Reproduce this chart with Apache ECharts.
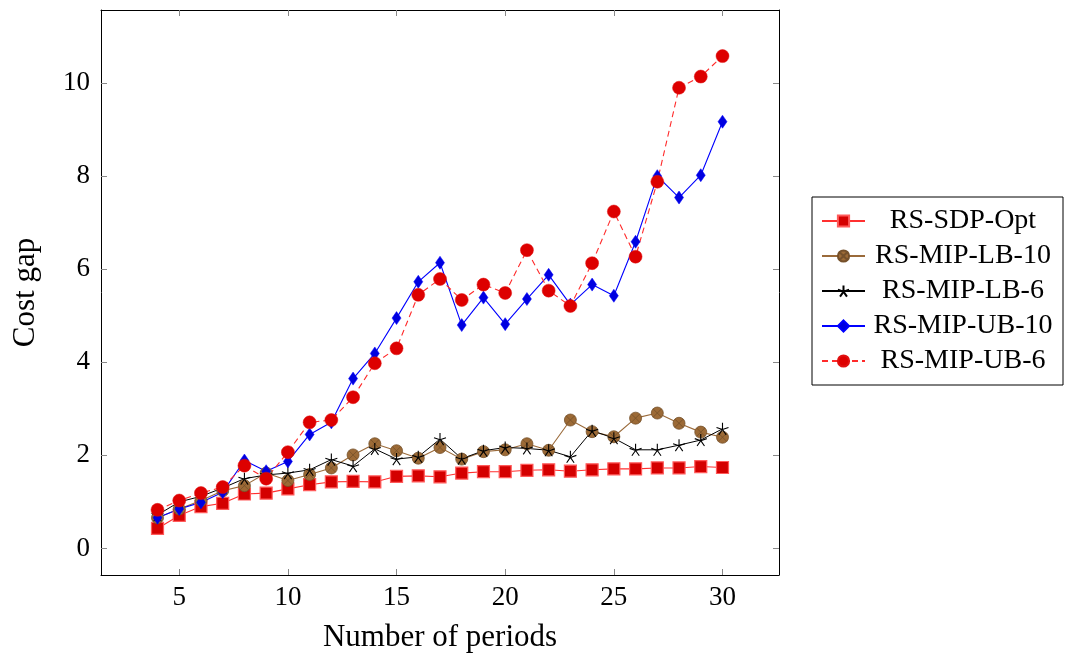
<!DOCTYPE html>
<html>
<head>
<meta charset="utf-8">
<script src="https://cdn.jsdelivr.net/npm/echarts@6/dist/echarts.min.js"></script>
<style>html,body{margin:0;padding:0;background:#fff}#c{width:1065px;height:659px}</style>
</head>
<body>
<div id="c"></div>
<script>
const periods = [4,5,6,7,8,9,10,11,12,13,14,15,16,17,18,19,20,21,22,23,24,25,26,27,28,29,30];
const sdpOpt = [0.43,0.71,0.90,0.97,1.17,1.19,1.28,1.37,1.43,1.44,1.43,1.55,1.56,1.54,1.62,1.65,1.65,1.68,1.69,1.66,1.69,1.71,1.71,1.73,1.73,1.76,1.74];
const mipLB10 = [0.66,0.85,1.03,1.24,1.35,1.62,1.46,1.59,1.73,2.01,2.25,2.10,1.94,2.17,1.92,2.08,2.12,2.25,2.11,2.76,2.51,2.40,2.80,2.91,2.69,2.50,2.39];
const mipLB6 = [0.72,1.00,1.12,1.30,1.50,1.58,1.62,1.69,1.91,1.77,2.14,1.92,1.97,2.35,1.93,2.10,2.17,2.15,2.11,1.97,2.53,2.37,2.12,2.12,2.22,2.33,2.57];
const mipUB10 = [0.66,0.85,0.99,1.21,1.89,1.66,1.87,2.45,2.71,3.65,4.19,4.95,5.73,6.14,4.80,5.39,4.82,5.36,5.88,5.24,5.67,5.43,6.59,8.00,7.54,8.02,9.17];
const mipUB6 = [0.83,1.03,1.19,1.32,1.78,1.50,2.07,2.71,2.76,3.25,3.98,4.30,5.45,5.79,5.34,5.67,5.49,6.41,5.54,5.21,6.13,7.24,6.27,7.88,9.90,10.14,10.58];
const seriesNames = ['RS-SDP-Opt','RS-MIP-LB-10','RS-MIP-LB-6','RS-MIP-UB-10','RS-MIP-UB-6'];
const xTicks = [5,10,15,20,25,30];
const yTicks = [0,2,4,6,8,10];

const serif = '"Liberation Serif", "DejaVu Serif", serif';
const pairs = arr => periods.map((p,i)=>[p, arr[i]]);
const starPath = 'path://M0,0L0,-10M0,0L9.51,-3.09M0,0L5.88,8.09M0,0L-5.88,8.09M0,0L-9.51,-3.09';
const otimesPath = 'path://M10,0A10,10 0 1,1 -10,0A10,10 0 1,1 10,0ZM-7.07,-7.07L7.07,7.07M-7.07,7.07L7.07,-7.07';

const chart = echarts.init(document.getElementById('c'), null, {renderer:'canvas'});

chart.setOption({
  animation:false,
  backgroundColor:'#fff',
  grid:{left:101, top:10, width:678, height:565, containLabel:false},
  xAxis:[{
    type:'value', min:1.4, max:32.6,
    name:'Number of periods', nameLocation:'middle', nameGap:47,
    nameTextStyle:{fontFamily:serif, fontSize:31, color:'#000'},
    axisLine:{show:true, onZero:false, lineStyle:{color:'#000', width:1}},
    axisTick:{show:true, inside:true, length:6, lineStyle:{color:'#888'}, customValues:xTicks},
    axisLabel:{customValues:xTicks, fontFamily:serif, fontSize:27, color:'#000', margin:9},
    splitLine:{show:false}
  },{
    type:'value', min:1.4, max:32.6, position:'top',
    axisLine:{show:true, onZero:false, lineStyle:{color:'#000', width:1}},
    axisTick:{show:true, inside:true, length:6, lineStyle:{color:'#888'}, customValues:xTicks},
    axisLabel:{show:false}, splitLine:{show:false}
  }],
  yAxis:[{
    type:'value', min:-0.57, max:11.57,
    name:'Cost gap', nameLocation:'middle', nameGap:60, nameRotate:90,
    nameTextStyle:{fontFamily:serif, fontSize:31, color:'#000'},
    axisLine:{show:true, onZero:false, lineStyle:{color:'#000', width:1}},
    axisTick:{show:true, inside:true, length:6, lineStyle:{color:'#888'}, customValues:yTicks},
    axisLabel:{customValues:yTicks, fontFamily:serif, fontSize:27, color:'#000', margin:11},
    splitLine:{show:false}
  },{
    type:'value', min:-0.57, max:11.57, position:'right',
    axisLine:{show:true, onZero:false, lineStyle:{color:'#000', width:1}},
    axisTick:{show:true, inside:true, length:6, lineStyle:{color:'#888'}, customValues:yTicks},
    axisLabel:{show:false}, splitLine:{show:false}
  }],
  legend:{
    orient:'vertical', left:812, top:197,
    padding:[10,7,10,9], itemGap:7, itemWidth:43, itemHeight:14,
    borderColor:'#000', borderWidth:1, backgroundColor:'#fff',
    data:seriesNames,
    formatter: n => '{a|' + n + '}',
    textStyle:{rich:{a:{width:186, align:'center', fontFamily:serif, fontSize:28, lineHeight:30, color:'#000'}}}
  },
  series:[
    {name:seriesNames[0], type:'line', data:pairs(sdpOpt), symbol:'rect', symbolSize:12,
     lineStyle:{color:'#ff3030', width:1.1}, itemStyle:{color:'#d40000', borderColor:'#ff5a5a', borderWidth:1.2}},
    {name:seriesNames[1], type:'line', data:pairs(mipLB10), symbol:otimesPath, symbolSize:12,
     lineStyle:{color:'#9a6a3a', width:1.1}, itemStyle:{color:'#9c6a36', borderColor:'#75502a', borderWidth:0.8}},
    {name:seriesNames[2], type:'line', data:pairs(mipLB6), symbol:starPath, symbolSize:12,
     lineStyle:{color:'#000', width:1}, itemStyle:{color:'rgba(0,0,0,0)', borderColor:'#000', borderWidth:1.1}},
    {name:seriesNames[3], type:'line', data:pairs(mipUB10), symbol:'diamond', symbolSize:[9,13],
     lineStyle:{color:'#0000ff', width:1.1}, itemStyle:{color:'#0000e0', borderColor:'#0000ff', borderWidth:0.5}},
    {name:seriesNames[4], type:'line', data:pairs(mipUB6), symbol:'circle', symbolSize:13,
     lineStyle:{color:'#ff2a2a', width:1.1, type:[6,4]}, itemStyle:{color:'#dd0000', borderColor:'#e01010', borderWidth:0.5}}
  ]
});
</script>
</body>
</html>
